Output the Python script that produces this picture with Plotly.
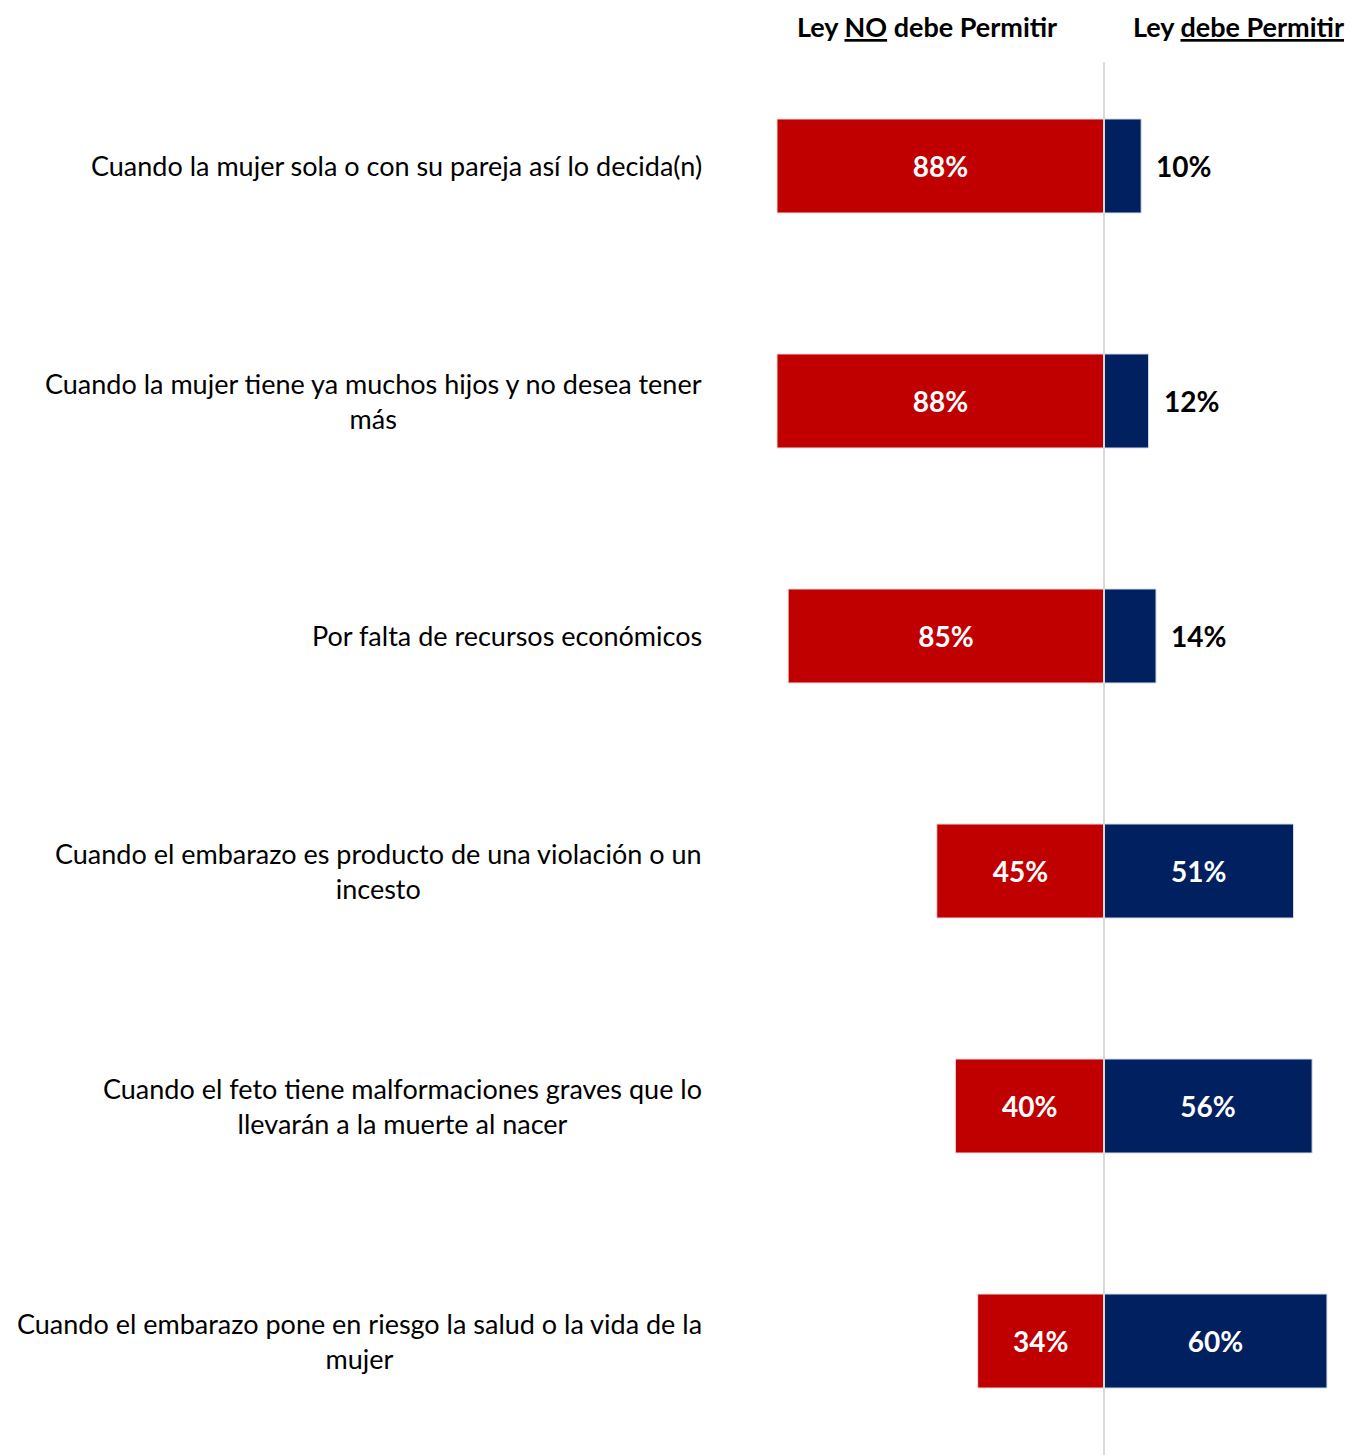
import plotly.graph_objects as go

categories = [
    "Cuando la mujer sola o con su pareja así lo decida(n)",
    "Cuando la mujer tiene ya muchos hijos y no desea tener<br>más",
    "Por falta de recursos económicos",
    "Cuando el embarazo es producto de una violación o un<br>incesto",
    "Cuando el feto tiene malformaciones graves que lo<br>llevarán a la muerte al nacer",
    "Cuando el embarazo pone en riesgo la salud o la vida de la<br>mujer",
]
no_permitir = [88, 88, 85, 45, 40, 34]
si_permitir = [10, 12, 14, 51, 56, 60]
headers = ["Ley <span style='text-decoration:underline'>NO</span> debe Permitir",
           "Ley <u>debe Permitir</u>"]

RED = "#C00000"
NAVY = "#002060"
FONT = "Lato, 'Open Sans', sans-serif"

W, H = 1351, 1455
T = 48
ypos = list(range(len(categories)))

fig = go.Figure()
fig.add_trace(go.Bar(
    y=ypos, x=[-v for v in no_permitir], orientation="h",
    marker=dict(color=RED, line=dict(color="#F2DCDC", width=1)),
    width=0.4,
    text=[f"{v}%" for v in no_permitir], textposition="inside",
    insidetextanchor="middle",
    textfont=dict(color="white", size=28, family=FONT, weight="bold"),
    showlegend=False, hoverinfo="skip",
))
fig.add_trace(go.Bar(
    y=ypos, x=si_permitir, orientation="h",
    marker=dict(color=NAVY, line=dict(color="#D6DCE5", width=1)),
    width=0.4,
    text=[f"{v}%" if v >= 20 else "" for v in si_permitir], textposition="inside",
    insidetextanchor="middle",
    textfont=dict(color="white", size=28, family=FONT, weight="bold"),
    showlegend=False, hoverinfo="skip",
))
for i, v in enumerate(si_permitir):
    if v < 20:
        fig.add_annotation(x=v, y=i, xref="x", yref="y", text=f"<b>{v}%</b>",
                           showarrow=False, xanchor="left", xshift=13,
                           font=dict(size=28, color="black", family=FONT))

for i, c in enumerate(categories):
    fig.add_annotation(x=704 / W, y=i, xref="paper", yref="y", text=c,
                       showarrow=False, xanchor="right", align="center",
                       font=dict(size=27, color="black", family=FONT))

hy = 1 + (T - 27) / (H - T)
fig.add_annotation(x=927 / W, y=hy, xref="paper", yref="paper",
                   yanchor="middle", xanchor="center", text=f"<b>{headers[0]}</b>",
                   showarrow=False, font=dict(size=27, color="black", family=FONT))
fig.add_annotation(x=1346 / W, y=hy, xref="paper", yref="paper",
                   yanchor="middle", xanchor="right", text=f"<b>{headers[1]}</b>",
                   showarrow=False, font=dict(size=27, color="black", family=FONT))

fig.add_shape(type="line", x0=0, x1=0, xref="x", y0=0, y1=1 + (T - 62) / (H - T),
              yref="paper", line=dict(color="#D9D9D9", width=2), layer="above")

px_per = 3.716
fig.update_layout(
    width=W, height=H,
    margin=dict(l=0, r=0, t=T, b=0),
    plot_bgcolor="white", paper_bgcolor="white",
    barmode="relative",
    xaxis=dict(range=[-1104 / px_per, (W - 1104) / px_per], visible=False),
    yaxis=dict(range=[5.485, -0.502], visible=False),
    font=dict(family=FONT),
)
fig.write_html("out.html", config={"displayModeBar": False},
               post_script="document.body.style.margin='0';")
